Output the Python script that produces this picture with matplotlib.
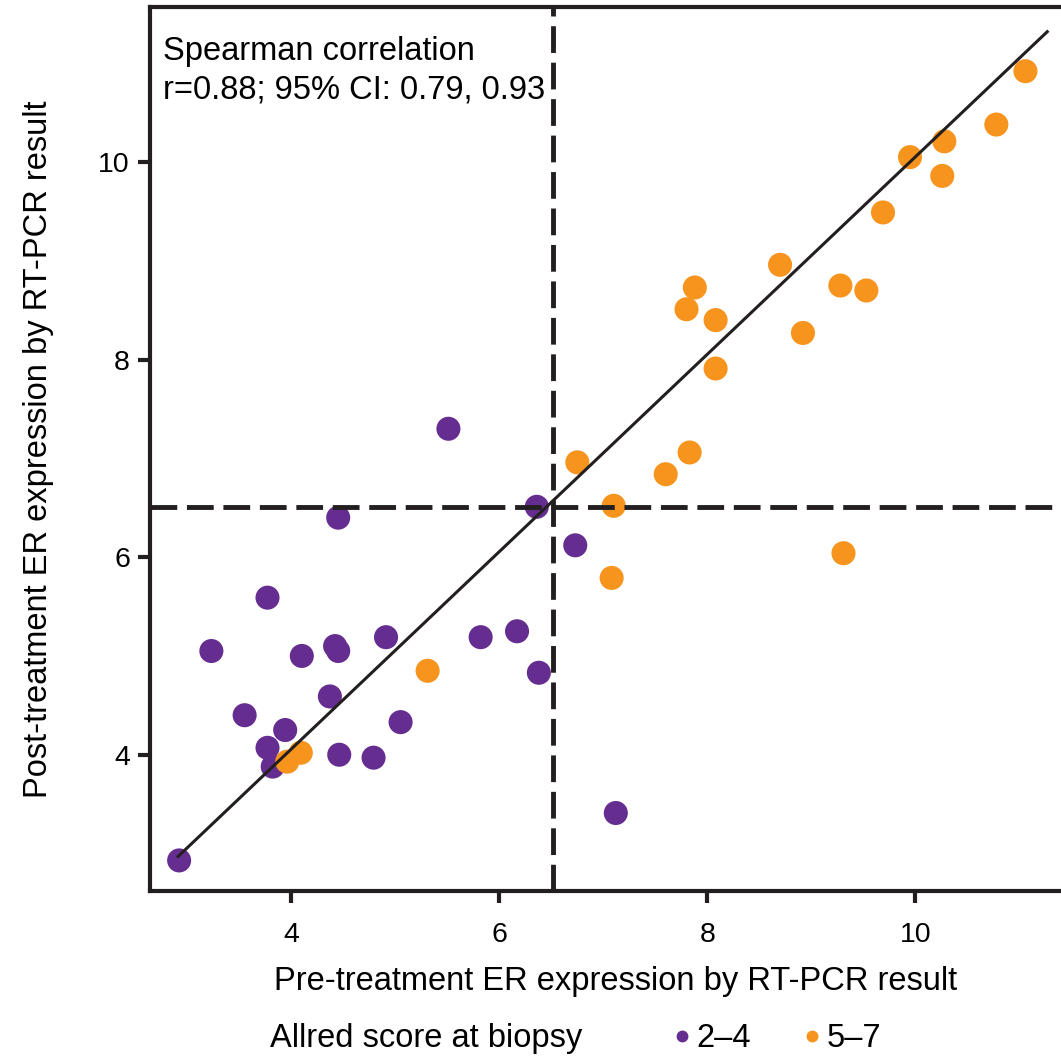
import matplotlib
matplotlib.use("Agg")
import matplotlib.pyplot as plt
from matplotlib.lines import Line2D

plt.rcParams['font.family'] = ['Liberation Sans', 'DejaVu Sans']

# Allred 2-4 (purple)
low_x = [5.51, 4.45, 6.36, 6.73, 3.77, 3.23, 4.10, 4.42, 4.45, 4.91, 5.82, 6.17,
         6.38, 4.37, 3.55, 3.94, 3.77, 3.82, 4.46, 4.79, 5.05, 2.92, 7.12]
low_y = [7.30, 6.40, 6.51, 6.12, 5.59, 5.05, 5.00, 5.10, 5.05, 5.19, 5.19, 5.25,
         4.83, 4.59, 4.40, 4.25, 4.07, 3.88, 4.00, 3.97, 4.33, 2.93, 3.41]

# Allred 5-7 (orange)
high_x = [11.06, 10.78, 10.28, 9.95, 10.26, 9.69, 8.70, 7.88, 7.80, 8.08, 9.28, 9.53,
          8.92, 8.08, 7.83, 7.60, 6.75, 7.10, 9.31, 7.08, 5.31, 3.96, 4.09]
high_y = [10.92, 10.38, 10.21, 10.05, 9.86, 9.49, 8.96, 8.73, 8.51, 8.40, 8.75, 8.70,
          8.27, 7.91, 7.06, 6.84, 6.96, 6.52, 6.04, 5.79, 4.85, 3.93, 4.02]

fit_x = [2.91, 11.27]
fit_y = [2.97, 11.32]
cutoff_x = 6.52
cutoff_y = 6.51

purple = '#662d91'
orange = '#f7941d'
ink = '#231f20'

fig = plt.figure(figsize=(10.61, 10.60), dpi=100)
ax = fig.add_axes([0.1414, 0.1594, 0.878, 0.834])

ax.scatter(low_x, low_y, s=300, color=purple, edgecolors='none', zorder=2)
ax.scatter(high_x, high_y, s=300, color=orange, edgecolors='none', zorder=2)
ax.plot(fit_x, fit_y, color=ink, lw=2.2, zorder=3)
ax.axvline(cutoff_x, color=ink, lw=3.5, dashes=(5.5, 2), zorder=3)
ax.axhline(cutoff_y, color=ink, lw=3.5, dashes=(5.5, 2), zorder=3)

ax.set_xlim(2.64, 11.6)
ax.set_ylim(2.62, 11.57)
ax.set_xticks([4, 6, 8, 10])
ax.set_yticks([4, 6, 8, 10])
for s in ax.spines.values():
    s.set_linewidth(3)
    s.set_color(ink)
ax.tick_params(axis='both', direction='out', length=8.5, width=3, color=ink, labelsize=20.5)
ax.tick_params(axis='x', pad=14)
ax.tick_params(axis='y', pad=6)

ax.set_xlabel('Pre-treatment ER expression by RT-PCR result', fontsize=23.5, labelpad=13)
ax.set_ylabel('Post-treatment ER expression by RT-PCR result', fontsize=23.5, labelpad=32)

ax.text(0.014, 0.967, 'Spearman correlation\nr=0.88; 95% CI: 0.79, 0.93',
        transform=ax.transAxes, fontsize=23.5, va='top', ha='left', linespacing=1.3)

fig.text(0.2545, 0.020, 'Allred score at biopsy', fontsize=23.5, va='center')
handles = [Line2D([], [], marker='o', ls='none', color=purple, markersize=7.5),
           Line2D([], [], marker='o', ls='none', color=orange, markersize=7.5)]
fig.legend(handles, ['2\u20134', '5\u20137'], loc='center left', bbox_to_anchor=(0.635, 0.020),
           ncol=2, frameon=False, fontsize=23.5, handletextpad=0.2, columnspacing=1.6,
           handlelength=0.5, borderpad=0, borderaxespad=0)

fig.savefig('out.png', dpi=100)
